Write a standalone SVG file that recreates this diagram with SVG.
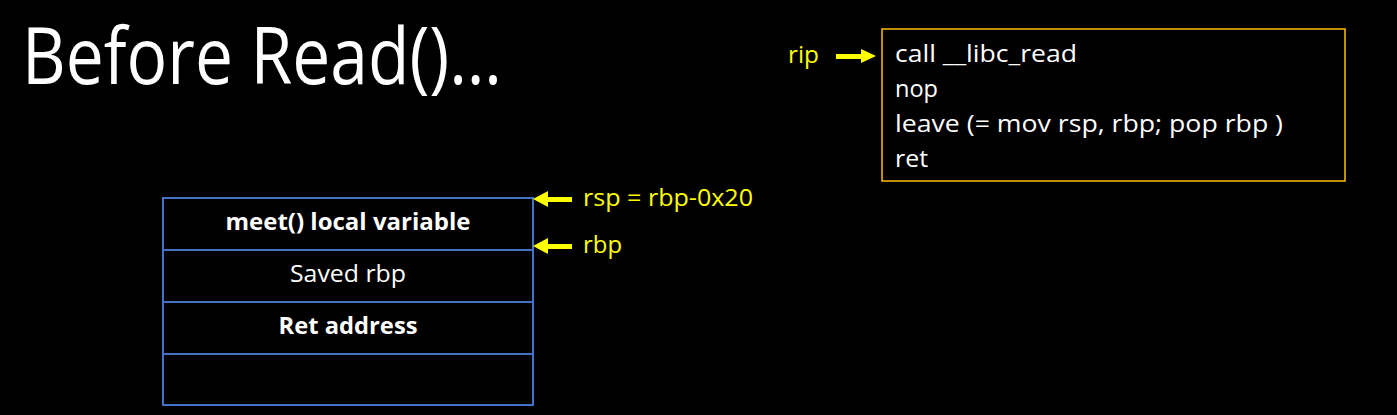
<svg xmlns="http://www.w3.org/2000/svg" width="1397" height="415" viewBox="0 0 1397 415">
<style>
.t{font-family:"Open Sans","Noto Sans","Liberation Sans",sans-serif;fill:#fff}
.y{font-family:"Open Sans","Noto Sans","Liberation Sans",sans-serif;fill:#ffff00;font-size:24px}
.code{font-size:24px}
.cell{fill:none;stroke:#4472c4;stroke-width:2}
.arr{fill:#ffff00}
</style>
<rect width="1397" height="415" fill="#000"/>
<text id="title" class="t" x="22" y="84" font-size="78" textLength="480" lengthAdjust="spacingAndGlyphs">Before Read()…</text>
<g id="stack">
<rect class="cell" x="163" y="198" width="370" height="207"/>
<line class="cell" x1="163" y1="250" x2="533" y2="250"/>
<line class="cell" x1="163" y1="302" x2="533" y2="302"/>
<line class="cell" x1="163" y1="354" x2="533" y2="354"/>
<text class="t" x="348" y="230" font-size="23" font-weight="bold" text-anchor="middle" textLength="245" lengthAdjust="spacingAndGlyphs">meet() local variable</text>
<text class="t" x="348" y="282" font-size="23" text-anchor="middle" textLength="116" lengthAdjust="spacingAndGlyphs">Saved rbp</text>
<text class="t" x="348" y="334" font-size="23" font-weight="bold" text-anchor="middle" textLength="139" lengthAdjust="spacingAndGlyphs">Ret address</text>
</g>
<g id="code">
<rect x="882" y="29" width="463" height="152" fill="none" stroke="#ffc000" stroke-width="1.5"/>
<text class="t code" x="895" y="62" textLength="182" lengthAdjust="spacingAndGlyphs">call __libc_read</text>
<text class="t code" x="895" y="97" textLength="43" lengthAdjust="spacingAndGlyphs">nop</text>
<text class="t code" x="895" y="132" textLength="388" lengthAdjust="spacingAndGlyphs">leave (= mov rsp, rbp; pop rbp )</text>
<text class="t code" x="895" y="167" textLength="33" lengthAdjust="spacingAndGlyphs">ret</text>
</g>
<g id="labels">
<text class="y" x="583" y="206" textLength="170" lengthAdjust="spacingAndGlyphs">rsp = rbp-0x20</text>
<text class="y" x="583" y="253" textLength="39" lengthAdjust="spacingAndGlyphs">rbp</text>
<text class="y" x="788" y="63" textLength="31" lengthAdjust="spacingAndGlyphs">rip</text>
</g>
<g id="connectors">
<polygon class="arr" points="533,199 548,191 548,197 572,197 572,202 548,202 548,207"/>
<polygon class="arr" points="533,246 548,238 548,244 572,244 572,249 548,249 548,254"/>
<polygon class="arr" points="876,56 861,49 861,54 836,54 836,59 861,59 861,63"/>
</g>
</svg>
